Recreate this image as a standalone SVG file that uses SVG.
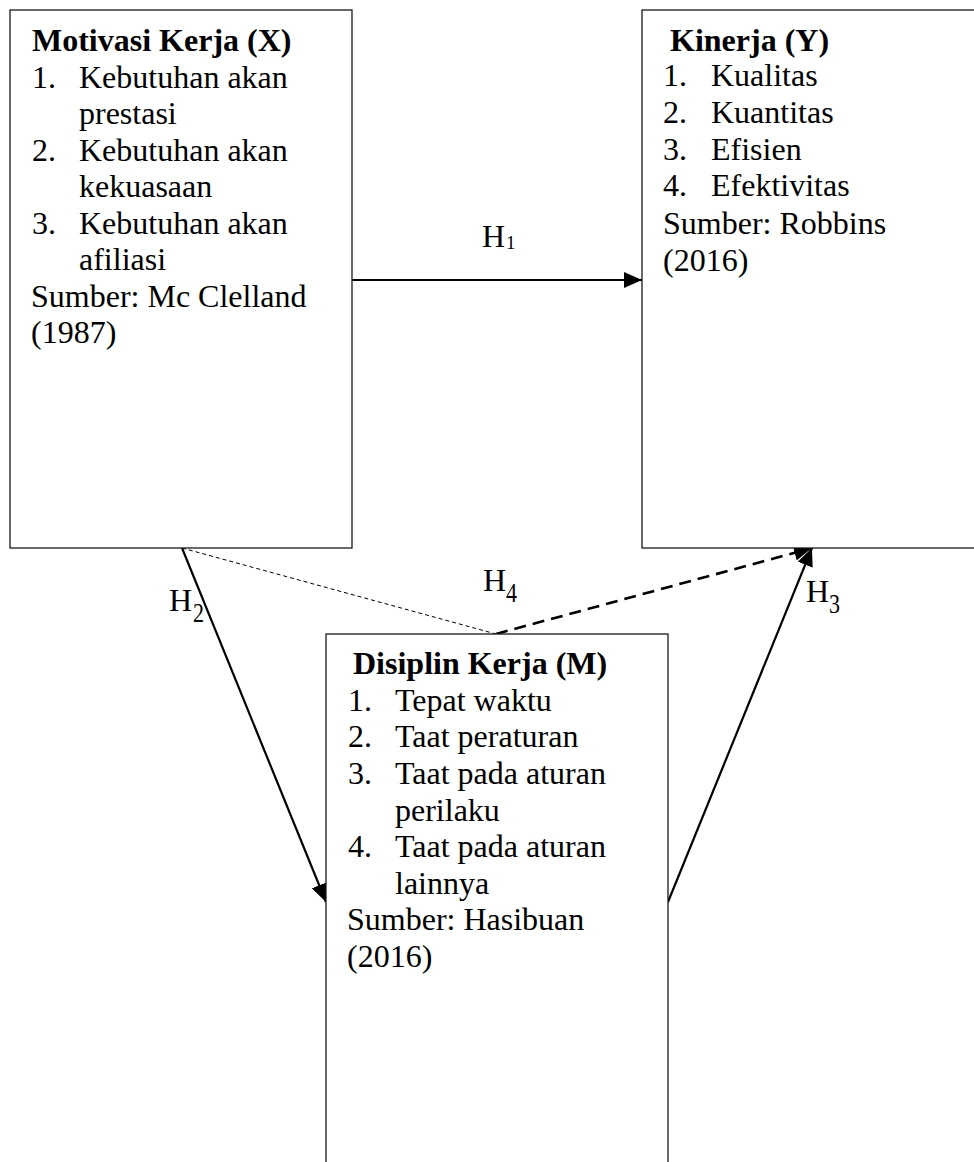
<svg xmlns="http://www.w3.org/2000/svg" width="974" height="1162" viewBox="0 0 974 1162">
<style>
.box{fill:#fff;stroke:#1a1a1a;stroke-width:1.3}
.t{font-family:"Liberation Serif","Times New Roman",serif;font-size:32px;fill:#000}
.b{font-weight:bold}
.h{font-family:"Liberation Serif","Times New Roman",serif;font-size:32px;fill:#000}
.s1{font-family:"Liberation Serif","Times New Roman",serif;font-size:19px;fill:#000}
.s{font-family:"Liberation Serif","Times New Roman",serif;font-size:28px;fill:#000}
.solid{fill:none;stroke:#000;stroke-width:2.2}
.thin{fill:none;stroke:#000;stroke-width:1;stroke-dasharray:4 3}
.thick{fill:none;stroke:#000;stroke-width:2.6;stroke-dasharray:12 7}
</style>
<defs>
<marker id="ah" markerUnits="userSpaceOnUse" markerWidth="18" markerHeight="16" refX="18" refY="8" orient="auto" viewBox="0 0 18 16">
<path d="M0,0 L18,8 L0,16 z" fill="#000"/>
</marker>
</defs>
<rect width="974" height="1162" fill="#fff"/>
<g id="connectors">
<line class="solid" x1="352" y1="280" x2="642" y2="280" marker-end="url(#ah)"/>
<line class="solid" x1="182" y1="548" x2="326" y2="902" marker-end="url(#ah)"/>
<line class="solid" x1="668" y1="902" x2="812" y2="548" marker-end="url(#ah)"/>
<line class="thin" x1="182" y1="548" x2="496" y2="634"/>
<line class="thick" x1="496" y1="634" x2="812" y2="548" marker-end="url(#ah)"/>
</g>
<g id="node-x">
<rect class="box" x="10" y="10" width="342" height="538"/>
<text class="t b" x="32" y="51">Motivasi Kerja (X)</text>
<text class="t" x="32" y="87.5">1.</text><text class="t" x="79" y="87.5">Kebutuhan akan</text>
<text class="t" x="79" y="124">prestasi</text>
<text class="t" x="32" y="160.5">2.</text><text class="t" x="79" y="160.5">Kebutuhan akan</text>
<text class="t" x="79" y="197">kekuasaan</text>
<text class="t" x="32" y="233.5">3.</text><text class="t" x="79" y="233.5">Kebutuhan akan</text>
<text class="t" x="79" y="270">afiliasi</text>
<text class="t" x="31" y="306.5">Sumber: Mc Clelland</text>
<text class="t" x="31" y="343">(1987)</text>
</g>
<g id="node-y">
<rect class="box" x="642" y="10" width="360" height="538"/>
<text class="t b" x="670" y="51">Kinerja (Y)</text>
<text class="t" x="663" y="86">1.</text><text class="t" x="711" y="86">Kualitas</text>
<text class="t" x="663" y="123">2.</text><text class="t" x="711" y="123">Kuantitas</text>
<text class="t" x="663" y="159.5">3.</text><text class="t" x="711" y="159.5">Efisien</text>
<text class="t" x="663" y="196">4.</text><text class="t" x="711" y="196">Efektivitas</text>
<text class="t" x="663" y="233.5">Sumber: Robbins</text>
<text class="t" x="663" y="271">(2016)</text>
</g>
<g id="node-m">
<rect class="box" x="326" y="634" width="342" height="560"/>
<text class="t b" x="353" y="674">Disiplin Kerja (M)</text>
<text class="t" x="348" y="710.5">1.</text><text class="t" x="395" y="710.5">Tepat waktu</text>
<text class="t" x="348" y="747">2.</text><text class="t" x="395" y="747">Taat peraturan</text>
<text class="t" x="348" y="784">3.</text><text class="t" x="395" y="784">Taat pada aturan</text>
<text class="t" x="395" y="820.5">perilaku</text>
<text class="t" x="348" y="857">4.</text><text class="t" x="395" y="857">Taat pada aturan</text>
<text class="t" x="395" y="893.5">lainnya</text>
<text class="t" x="347" y="930">Sumber: Hasibuan</text>
<text class="t" x="347" y="967">(2016)</text>
</g>
<g id="labels">
<text class="h" x="482" y="247">H</text><text class="s1" x="506" y="249">1</text>
<text class="h" x="169" y="611">H</text><text class="s" x="193" y="622" textLength="11" lengthAdjust="spacingAndGlyphs">2</text>
<text class="h" x="483" y="591">H</text><text class="s" x="506" y="602" textLength="11" lengthAdjust="spacingAndGlyphs">4</text>
<text class="h" x="806" y="602">H</text><text class="s" x="829" y="613" textLength="11" lengthAdjust="spacingAndGlyphs">3</text>
</g>
</svg>
